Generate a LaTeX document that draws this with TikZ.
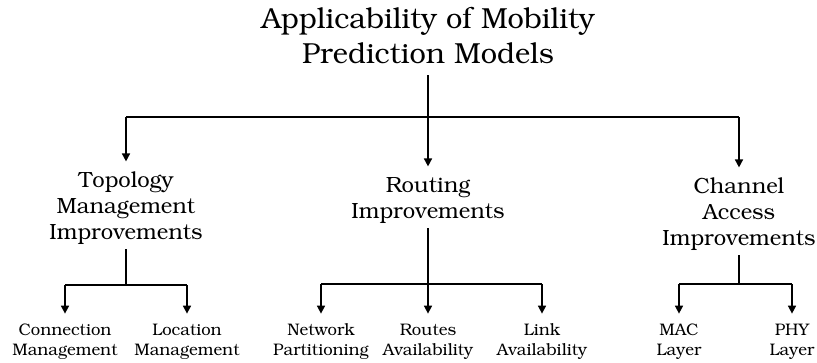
\documentclass[tikz,border=0pt]{standalone}
\usepackage[T1]{fontenc}
\usepackage{bookman}
\usetikzlibrary{positioning,arrows.meta}

\begin{document}
\begin{tikzpicture}[x=1pt,y=-1pt,
	conn/.style={line width=1.6pt},
	arr/.style={conn,-{Triangle[length=8pt,width=8pt]},shorten >=10pt},
	toplevel/.style={align=center,anchor=base,inner sep=0pt,font=\fontsize{29}{35}\selectfont},
	midlevel/.style={align=center,anchor=base,inner sep=0pt,font=\fontsize{22}{26}\selectfont},
	leaflevel/.style={align=center,anchor=base,inner sep=0pt,font=\fontsize{16.7}{19.5}\selectfont}]
			\useasboundingbox (0,0) rectangle (817,362);
			
			% root (base = last line)
			\node[toplevel] (root) at (428,63) {Applicability of Mobility\\Prediction Models};
			
			% second level
			\node[midlevel] (topo) at (126,239) {Topology\\Management\\Improvements};
			\node[midlevel] (routing) at (428,218) {Routing\\Improvements};
			\node[midlevel] (channel) at (739,245) {Channel\\Access\\Improvements};
			
			% leaves
			\node[leaflevel] (conman) at (65,355) {Connection\\Management};
			\node[leaflevel] (locman) at (187,355) {Location\\Management};
			\node[leaflevel] (netpart) at (321,355) {Network\\Partitioning};
			\node[leaflevel] (routav) at (428,355) {Routes\\Availability};
			\node[leaflevel] (linkav) at (542,355) {Link\\Availability};
			\node[leaflevel] (mac) at (679,355) {MAC\\Layer};
			\node[leaflevel] (phy) at (792,355) {PHY\\Layer};
			
			% branch points
			\coordinate (rootj) at (428,117);
			\coordinate (topoj) at (126,285);
			\coordinate (routj) at (428,284);
			\coordinate (chanj) at (739,284);
			
			\draw[conn, shorten <=12pt] (root.south) -- (rootj);
			\draw[conn] (topo.north |- rootj) -- (channel.north |- rootj);
			\draw[arr] (topo.north |- rootj) -- (topo.north);
			\draw[arr] (rootj) -- (routing.north);
			\draw[arr] (channel.north |- rootj) -- (channel.north);
			
			\draw[conn, shorten <=5pt] (topo.south) -- (topoj);
			\draw[conn] (conman.north |- topoj) -- (locman.north |- topoj);
			\draw[arr] (conman.north |- topoj) -- (conman.north);
			\draw[arr] (locman.north |- topoj) -- (locman.north);
			
			\draw[conn, shorten <=5pt] (routing.south) -- (routj);
			\draw[conn] (netpart.north |- routj) -- (linkav.north |- routj);
			\draw[arr] (netpart.north |- routj) -- (netpart.north);
			\draw[arr] (routj) -- (routav.north);
			\draw[arr] (linkav.north |- routj) -- (linkav.north);
			
			\draw[conn, shorten <=5pt] (channel.south) -- (chanj);
			\draw[conn] (mac.north |- chanj) -- (phy.north |- chanj);
			\draw[arr] (mac.north |- chanj) -- (mac.north);
			\draw[arr] (phy.north |- chanj) -- (phy.north);
\end{tikzpicture}
\end{document}
